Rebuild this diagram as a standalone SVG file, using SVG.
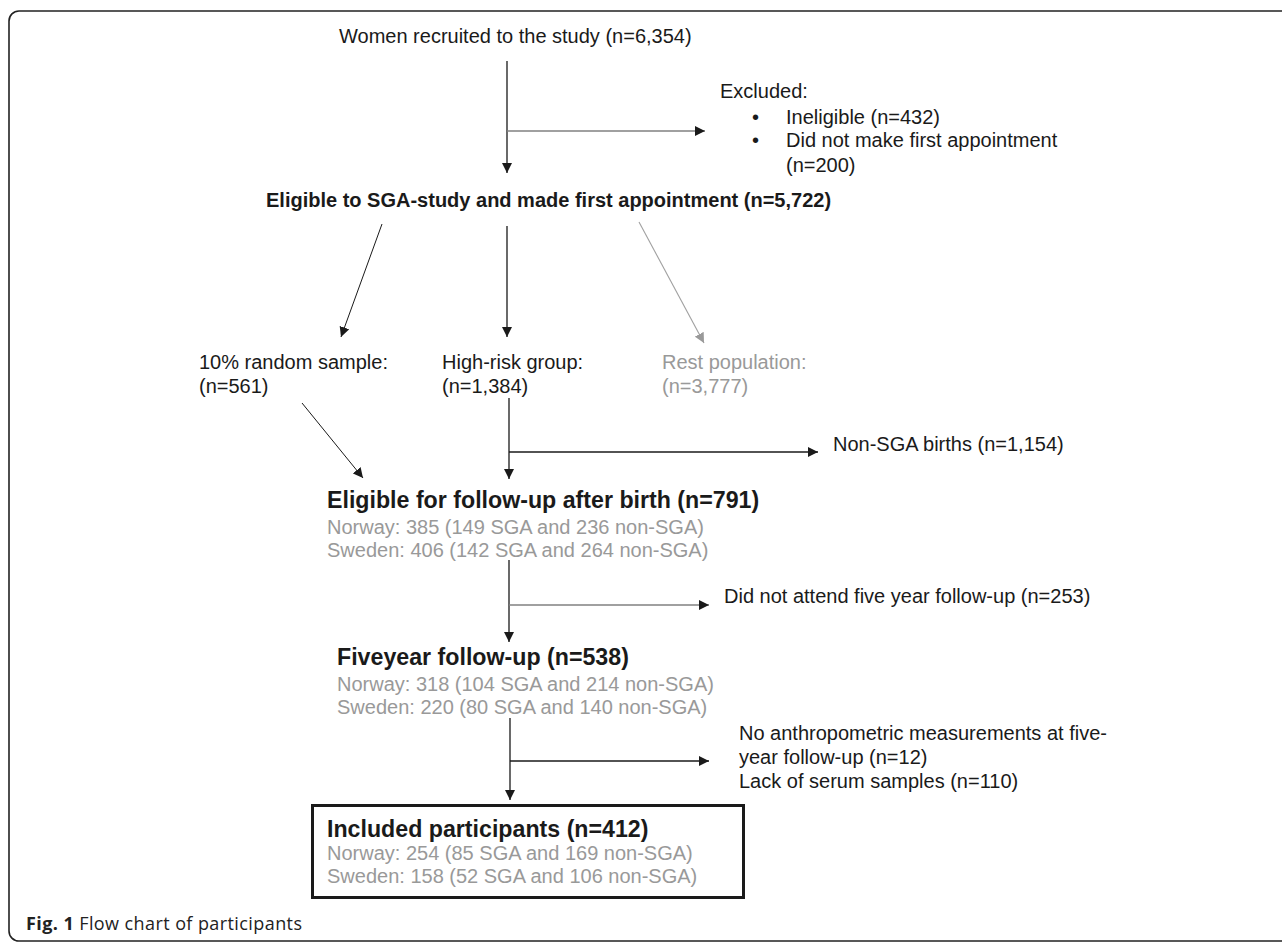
<svg xmlns="http://www.w3.org/2000/svg" width="1282" height="942" viewBox="0 0 1282 942">
<style>
text{font-family:"Liberation Sans",Arial,Helvetica,sans-serif;font-size:20px;fill:#1a1a1a}
.b{font-weight:bold}
.h{font-size:23.2px;font-weight:bold}
.g{fill:#999999}
.cap{font-family:"Open Sans","Noto Sans",sans-serif;font-size:18px;fill:#222}
.ln{stroke:#1a1a1a;stroke-width:1.3;fill:none}
.lg{stroke:#808080;stroke-width:1.6;fill:none}
.lgl{stroke:#a0a0a0;stroke-width:1.1;fill:none}
</style>
<defs>
<marker id="ah" viewBox="0 0 10 10" refX="10" refY="5" markerWidth="10" markerHeight="10" markerUnits="userSpaceOnUse" orient="auto"><path d="M0,0 L10,5 L0,10 z" fill="#1a1a1a"/></marker>
<marker id="ahg" viewBox="0 0 10 10" refX="10" refY="5" markerWidth="10" markerHeight="10" markerUnits="userSpaceOnUse" orient="auto"><path d="M0,0 L10,5 L0,10 z" fill="#999999"/></marker>
</defs>
<rect width="1282" height="942" fill="#ffffff"/>
<path id="frame" d="M1290 11 H19 A10 10 0 0 0 9 21 V931 A10 10 0 0 0 19 941 H1290" fill="none" stroke="#222" stroke-width="1.6"/>

<g id="connectors">
<line class="ln" x1="507" y1="61" x2="507" y2="173" marker-end="url(#ah)"/>
<line class="lg" x1="507" y1="131" x2="705" y2="131" marker-end="url(#ah)"/>
<line class="ln" x1="382" y1="224" x2="341" y2="337" marker-end="url(#ah)" style="stroke-width:1"/>
<line class="ln" x1="507" y1="226" x2="507" y2="337" marker-end="url(#ah)"/>
<line class="lgl" x1="639" y1="222" x2="704" y2="343" marker-end="url(#ahg)"/>
<line class="ln" x1="302" y1="403" x2="363" y2="478" marker-end="url(#ah)" style="stroke-width:1"/>
<line class="ln" x1="509" y1="398" x2="509" y2="479" marker-end="url(#ah)"/>
<line class="ln" x1="509" y1="452" x2="818" y2="452" marker-end="url(#ah)"/>
<line class="ln" x1="509" y1="560" x2="509" y2="642" marker-end="url(#ah)"/>
<line class="lg" x1="509" y1="605" x2="709" y2="605" marker-end="url(#ah)"/>
<line class="ln" x1="510" y1="718" x2="510" y2="800" marker-end="url(#ah)"/>
<line class="ln" x1="510" y1="761" x2="709" y2="761" marker-end="url(#ah)"/>
</g>

<g id="recruited"><text x="339" y="43">Women recruited to the study (n=6,354)</text></g>
<g id="excluded">
<text x="720" y="98">Excluded:</text>
<text x="752" y="124">•</text><text x="786" y="124">Ineligible (n=432)</text>
<text x="752" y="147">•</text><text x="786" y="147">Did not make first appointment</text>
<text x="786" y="172">(n=200)</text>
</g>
<g id="eligible-sga"><text class="b" x="266" y="207">Eligible to SGA-study and made first appointment (n=5,722)</text></g>
<g id="random"><text x="199" y="369">10% random sample:</text><text x="199" y="393">(n=561)</text></g>
<g id="highrisk"><text x="442" y="369">High-risk group:</text><text x="442" y="393">(n=1,384)</text></g>
<g id="rest"><text class="g" x="662" y="369">Rest population:</text><text class="g" x="662" y="393">(n=3,777)</text></g>
<g id="nonsga"><text x="833" y="451">Non-SGA births (n=1,154)</text></g>
<g id="eligible-followup">
<text class="h" x="327" y="508">Eligible for follow-up after birth (n=791)</text>
<text class="g" x="327" y="534">Norway: 385 (149 SGA and 236 non-SGA)</text>
<text class="g" x="327" y="557">Sweden: 406 (142 SGA and 264 non-SGA)</text>
</g>
<g id="notattend"><text x="724" y="603">Did not attend five year follow-up (n=253)</text></g>
<g id="fiveyear">
<text class="h" x="337" y="665">Fiveyear follow-up (n=538)</text>
<text class="g" x="337" y="691">Norway: 318 (104 SGA and 214 non-SGA)</text>
<text class="g" x="337" y="714">Sweden: 220 (80 SGA and 140 non-SGA)</text>
</g>
<g id="noanthro">
<text x="739" y="740">No anthropometric measurements at five-</text>
<text x="739" y="764">year follow-up (n=12)</text>
<text x="739" y="788">Lack of serum samples (n=110)</text>
</g>
<g id="included">
<rect x="312.5" y="805.5" width="431" height="92" fill="none" stroke="#1a1a1a" stroke-width="3"/>
<text class="h" x="327" y="837">Included participants (n=412)</text>
<text class="g" x="327" y="860">Norway: 254 (85 SGA and 169 non-SGA)</text>
<text class="g" x="327" y="883">Sweden: 158 (52 SGA and 106 non-SGA)</text>
</g>
<g id="caption"><text class="cap" x="26" y="930" textLength="276" lengthAdjust="spacing"><tspan font-weight="bold">Fig. 1</tspan> Flow chart of participants</text></g>
</svg>
